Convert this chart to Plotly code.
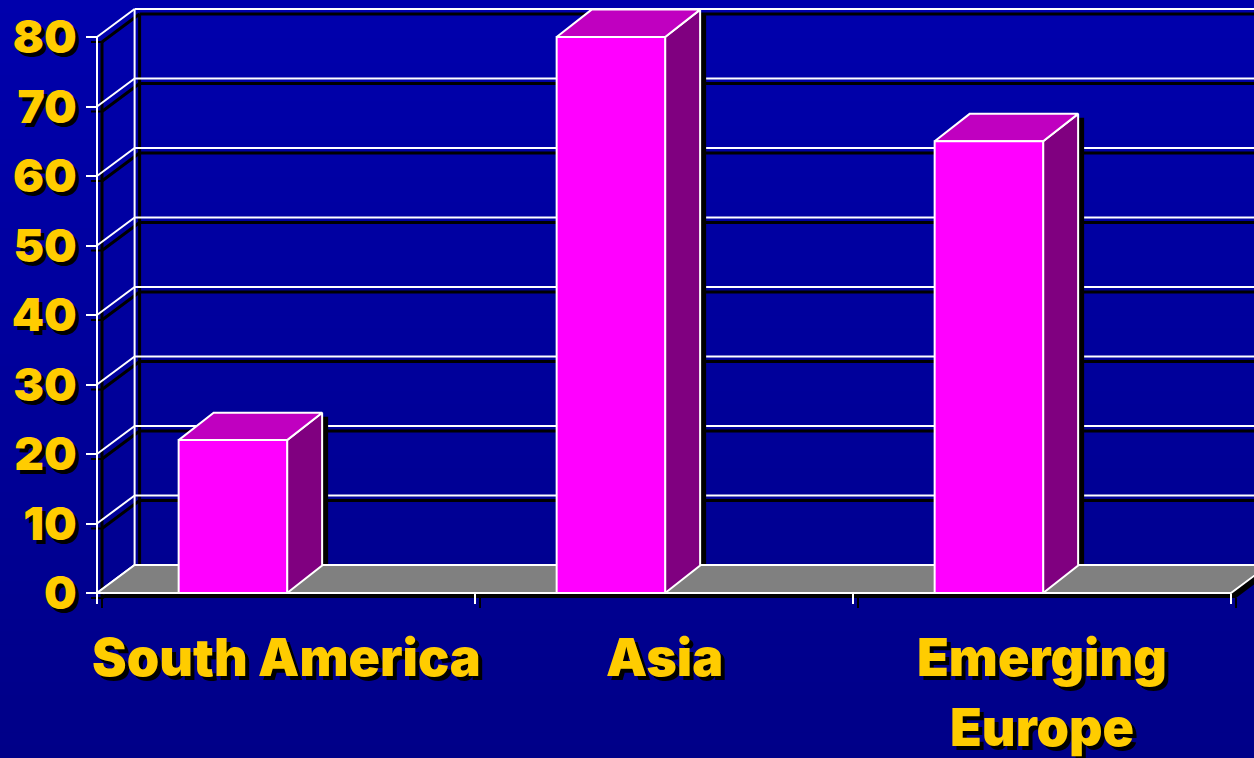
import plotly.graph_objects as go

# ---------------- data ----------------
categories = ["South America", "Asia", "Emerging Europe"]
category_labels = ["South America", "Asia", "Emerging<br>Europe"]
values = [22, 80, 65]
y_ticks = [0, 10, 20, 30, 40, 50, 60, 70, 80]

# ---------------- layout constants ----------------
W, H = 1254, 758
X0_PX, Y0_PX = 97, 593          # pixel position of the front-left floor corner
PX_PER_CAT = 378                # pixels per category
PX_PER_UNIT = 6.95              # pixels per value unit


def dx(px):
    return px / PX_PER_CAT


def dy(px):
    return px / PX_PER_UNIT


x_range = [-X0_PX / PX_PER_CAT, (W - X0_PX) / PX_PER_CAT]
y_range = [-(H - Y0_PX) / PX_PER_UNIT, Y0_PX / PX_PER_UNIT]

WALL_DX, WALL_DY = dx(37.6), dy(28)
BAR_DX, BAR_DY = dx(35), dy(27.4)
SHX, SHY = dx(5), -dy(5)
BAR_SHX, BAR_SHY = dx(6), -dy(4)
BAR_L, BAR_R = 0.216, 0.503
N = len(categories)
YMAX = max(y_ticks)

FONT = "Arial Black, Inter, Roboto, DejaVu Sans, sans-serif"
YELLOW = "#FFCC00"
TEXT_SHADOW = "4px 4px 0px #000000"

traces = []


def line(xs, ys, color, width=2):
    traces.append(go.Scatter(x=xs, y=ys, mode="lines",
                             line=dict(color=color, width=width),
                             hoverinfo="skip", showlegend=False))


def poly(xs, ys, fill, outline=None, width=2):
    traces.append(go.Scatter(x=list(xs) + [xs[0]], y=list(ys) + [ys[0]],
                             mode="lines", fill="toself", fillcolor=fill,
                             line=dict(color=outline if outline else fill,
                                       width=width if outline else 0),
                             hoverinfo="skip", showlegend=False))


def wall_lines(ox, oy, color, width):
    # back-wall horizontal gridlines
    for v in y_ticks[1:]:
        line([WALL_DX + ox, N + WALL_DX + ox], [v + WALL_DY + oy] * 2, color, width)
    # side diagonals
    for v in y_ticks:
        line([0 + ox, WALL_DX + ox], [v + oy, v + WALL_DY + oy], color, width)
    # back-left vertical
    line([WALL_DX + ox] * 2, [WALL_DY + oy, YMAX + WALL_DY + oy], color, width)
    # front vertical
    line([0 + ox] * 2, [0 + oy, YMAX + oy], color, width)


# shadows of the wall frame
wall_lines(SHX, SHY, "#000000", 3)
# shadows of the tick marks
for v in y_ticks:
    line([-dx(11) + SHX, SHX], [v + SHY] * 2, "#000000", 2)
for i in range(N + 1):
    line([i + SHX] * 2, [SHY, -dy(10) + SHY], "#000000", 2)

# white wall frame
wall_lines(0, 0, "#FFFFFF", 2)

# bar shadows (on back wall)
for i, v in enumerate(values):
    x0, x1 = i + BAR_L, i + BAR_R
    xs = [x0, x1, x1 + BAR_DX, x1 + BAR_DX, x0 + BAR_DX, x0]
    ys = [0, 0, BAR_DY, v + BAR_DY, v + BAR_DY, v]
    poly([x + BAR_SHX for x in xs], [y + BAR_SHY for y in ys], "#000000")

# floor shadow + floor
fx = [0, N, N + WALL_DX, WALL_DX]
fy = [0, 0, WALL_DY, WALL_DY]
poly([x + SHX for x in fx], [y + SHY for y in fy], "#000000")
poly(fx, fy, "#808080", "#FFFFFF", 2)

# bars
for i, v in enumerate(values):
    x0, x1 = i + BAR_L, i + BAR_R
    # side face
    poly([x1, x1 + BAR_DX, x1 + BAR_DX, x1], [0, BAR_DY, v + BAR_DY, v],
         "#800080", "#FFFFFF", 2)
    # top face
    poly([x0, x1, x1 + BAR_DX, x0 + BAR_DX], [v, v, v + BAR_DY, v + BAR_DY],
         "#C000C0", "#FFFFFF", 2)
    # front face
    poly([x0, x1, x1, x0], [0, 0, v, v], "#FF00FF", "#FFFFFF", 2)

fig = go.Figure(traces)

# category labels (one annotation per line)
LINE_GAP_PX = 70
for i, lab in enumerate(category_labels):
    for k, part in enumerate(lab.split("<br>")):
        fig.add_annotation(x=i + 0.5, y=-dy(64 + k * LINE_GAP_PX), text=part,
                           showarrow=False, xanchor="center", yanchor="middle",
                           font=dict(family=FONT, size=52, color=YELLOW,
                                     weight=900, shadow=TEXT_SHADOW))

# background gradient bands
shapes = []
NB = 60
for b in range(NB):
    t = b / (NB - 1)
    blue = int(round(172 - (172 - 136) * t))
    shapes.append(dict(type="rect", xref="paper", yref="paper",
                       x0=0, x1=1, y0=1 - (b + 1) / NB - 0.002, y1=1 - b / NB,
                       fillcolor=f"rgb(0,0,{blue})", line=dict(width=0),
                       layer="below"))

fig.update_layout(
    width=W, height=H,
    margin=dict(l=0, r=0, t=0, b=0),
    paper_bgcolor="#00009C", plot_bgcolor="rgba(0,0,0,0)",
    shapes=shapes, showlegend=False, hovermode=False,
    xaxis=dict(range=x_range, anchor="free", position=(H - Y0_PX) / H,
               showgrid=False, zeroline=False, showline=False,
               tickvals=list(range(N + 1)), ticktext=[""] * (N + 1),
               ticks="outside", ticklen=10, tickwidth=2, tickcolor="#FFFFFF",
               fixedrange=True),
    yaxis=dict(range=y_range, anchor="free", position=X0_PX / W,
               showgrid=False, zeroline=False, showline=False,
               tickvals=y_ticks, ticktext=[str(v) for v in y_ticks],
               ticks="outside", ticklen=11, tickwidth=2, tickcolor="#FFFFFF",
               tickfont=dict(family=FONT, size=46, color=YELLOW, weight=900,
                             shadow=TEXT_SHADOW),
               fixedrange=True),
)

fig.write_html("out.html", config={"displayModeBar": False},
               post_script="document.body.style.margin='0';")
